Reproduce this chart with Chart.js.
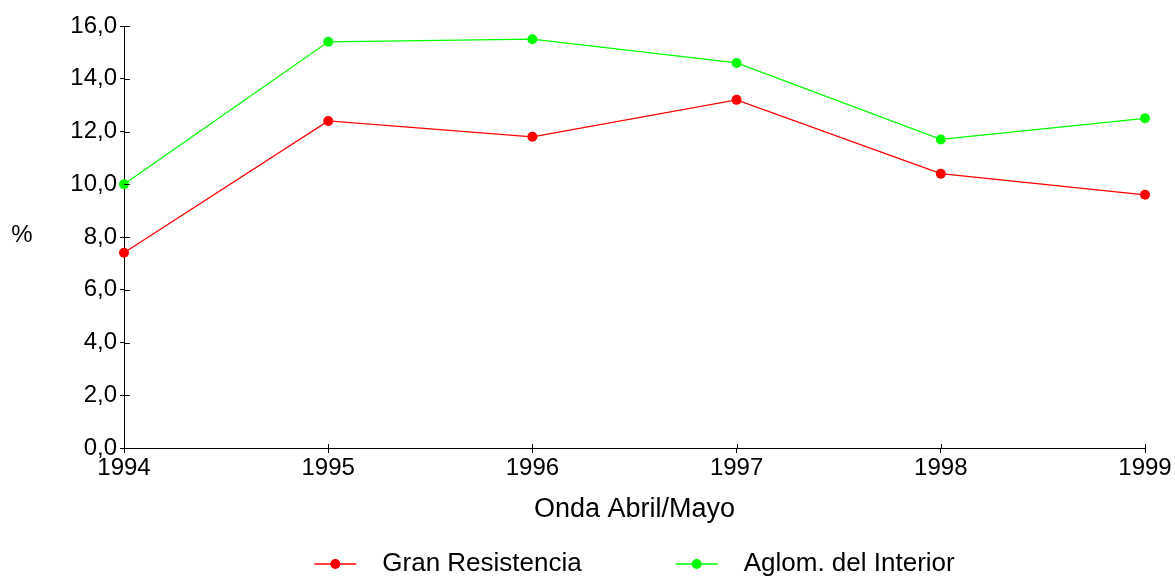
<!DOCTYPE html>
<html>
<head>
<meta charset="utf-8">
<script src="https://cdn.jsdelivr.net/npm/chart.js@4.4.1/dist/chart.umd.min.js"></script>
<style>
  html, body { margin: 0; padding: 0; background: #fff; }
  #wrap { width: 1175px; height: 577px; position: relative; }
</style>
</head>
<body>
<div id="wrap"><canvas id="c" width="1175" height="577"></canvas></div>
<script>
const years = ['1994', '1995', '1996', '1997', '1998', '1999'];
const granResistencia = [7.4, 12.4, 11.8, 13.2, 10.4, 9.6];
const aglomInterior = [10.0, 15.4, 15.5, 14.6, 11.7, 12.5];
const seriesNames = ['Gran Resistencia', 'Aglom. del Interior'];
const seriesColors = ['#ff0000', '#00ff00'];
const yAxisLabel = '%';
const xAxisLabel = 'Onda Abril/Mayo';

const FONT = "'Liberation Sans', Arial, sans-serif";

const extrasPlugin = {
  id: 'extras',
  afterDraw(chart) {
    const ctx = chart.ctx;
    const area = chart.chartArea;
    const xs = chart.scales.x, ys = chart.scales.y;
    ctx.save();
    // inner tick parts
    ctx.strokeStyle = '#000';
    ctx.lineWidth = 1;
    ctx.beginPath();
    ys.ticks.forEach((t, i) => {
      const y = Math.round(ys.getPixelForTick(i)) + 0.5;
      ctx.moveTo(area.left, y); ctx.lineTo(area.left + 6, y);
    });
    xs.ticks.forEach((t, i) => {
      const x = Math.round(xs.getPixelForTick(i)) + 0.5;
      ctx.moveTo(x, area.bottom); ctx.lineTo(x, area.bottom - 4);
    });
    ctx.stroke();
    // horizontal y-axis label
    ctx.fillStyle = '#000';
    ctx.font = "24px " + FONT;
    ctx.textAlign = 'center';
    ctx.textBaseline = 'middle';
    ctx.fillText(yAxisLabel, 22, (area.top + area.bottom) / 2 - 2);
    // legend
    ctx.font = "26px " + FONT;
    const markerW = 42, gapText = 26, gapItem = 94;
    const items = chart.data.datasets.map(d => ({label: d.label, color: d.borderColor, w: ctx.measureText(d.label).width}));
    let total = 0;
    items.forEach((it, i) => { total += markerW + gapText + it.w + (i ? gapItem : 0); });
    let x = (area.left + area.right) / 2 - total / 2;
    const ly = 564;
    ctx.textAlign = 'left';
    items.forEach((it) => {
      ctx.strokeStyle = it.color;
      ctx.lineWidth = 1.3;
      ctx.beginPath();
      ctx.moveTo(x, ly); ctx.lineTo(x + markerW, ly);
      ctx.stroke();
      ctx.fillStyle = it.color;
      ctx.beginPath();
      ctx.arc(x + markerW / 2, ly, 5, 0, Math.PI * 2);
      ctx.fill();
      ctx.fillStyle = '#000';
      ctx.fillText(it.label, x + markerW + gapText, ly);
      x += markerW + gapText + it.w + gapItem;
    });
    ctx.restore();
  }
};

new Chart(document.getElementById('c'), {
  type: 'line',
  data: {
    labels: years,
    datasets: [
      { label: seriesNames[0], data: granResistencia, borderColor: seriesColors[0], backgroundColor: seriesColors[0],
        borderWidth: 1.3, pointRadius: 5, pointBorderWidth: 0, pointBackgroundColor: seriesColors[0], tension: 0 },
      { label: seriesNames[1], data: aglomInterior, borderColor: seriesColors[1], backgroundColor: seriesColors[1],
        borderWidth: 1.3, pointRadius: 5, pointBorderWidth: 0, pointBackgroundColor: seriesColors[1], tension: 0 }
    ]
  },
  options: {
    responsive: false,
    animation: false,
    devicePixelRatio: 1,
    layout: { padding: { left: 0, right: 30, top: 26, bottom: 51 } },
    plugins: { legend: { display: false }, tooltip: { enabled: false } },
    scales: {
      x: {
        type: 'category',
        offset: false,
        border: { display: true, color: '#000', width: 1 },
        grid: { drawOnChartArea: false, drawTicks: true, tickLength: 5, color: '#000' },
        ticks: { color: '#000', font: { family: FONT, size: 24 }, padding: 1, maxRotation: 0, autoSkip: false },
        title: { display: true, text: xAxisLabel, color: '#000', font: { family: FONT, size: 27 }, padding: { top: 0, bottom: 0 } },
        afterFit(scale) { scale.height = 78; }
      },
      y: {
        min: 0, max: 16,
        border: { display: true, color: '#000', width: 1 },
        grid: { drawOnChartArea: false, drawTicks: true, tickLength: 4, color: '#000' },
        ticks: { stepSize: 2, color: '#000', font: { family: FONT, size: 24 }, padding: 3,
                 callback: (v) => v.toFixed(1).replace('.', ',') },
        afterFit(scale) { scale.width = 124; }
      }
    }
  },
  plugins: [extrasPlugin]
});
</script>
</body>
</html>
